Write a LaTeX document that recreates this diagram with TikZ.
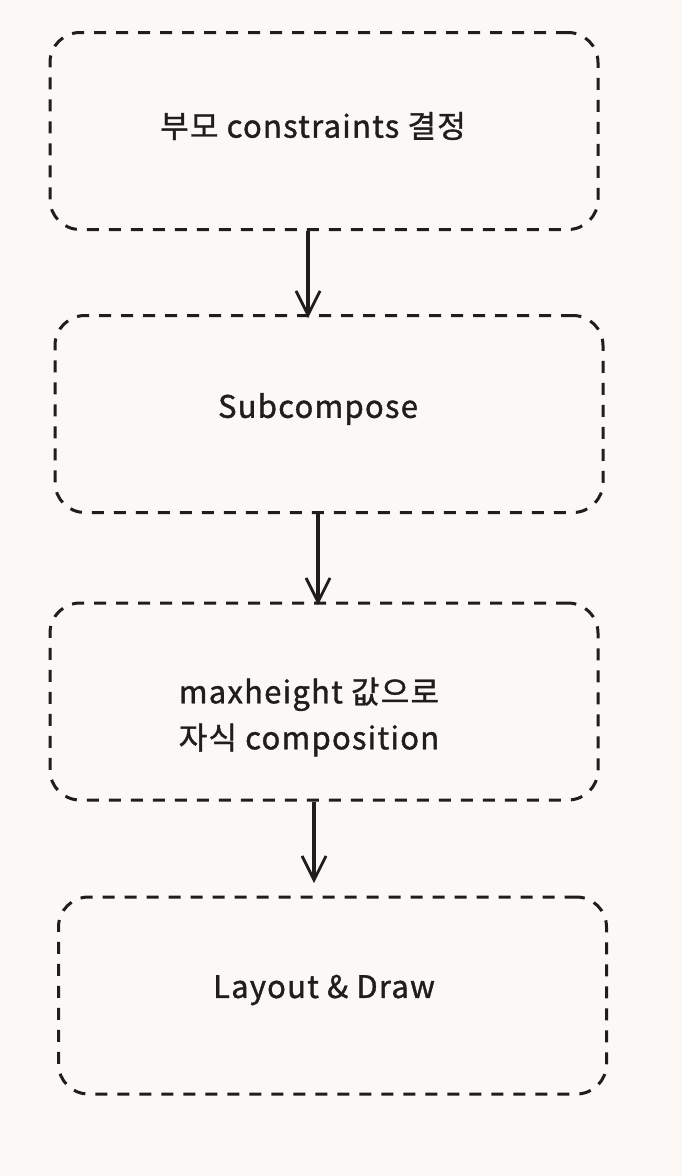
\documentclass[tikz,border=0pt]{standalone}
\usepackage{fontspec}
\setmainfont[FakeBold=1.2,LetterSpace=4]{Noto Sans CJK KR}
\usetikzlibrary{arrows.meta}
\definecolor{bgc}{HTML}{FBF8F5}
\definecolor{ink}{HTML}{1E1E1E}
\tikzset{
  box/.style={draw=ink, line width=3pt, dash pattern=on 12pt off 10pt, rounded corners=30pt, minimum width=548pt, minimum height=197pt, inner sep=0pt},
  txt/.style={text=ink, font=\fontsize{31}{46}\selectfont, align=center, inner sep=0pt},
  arr/.style={draw=ink, line width=3.2pt, -{Straight Barb[length=24pt,width=24pt,line width=2.8pt]}},
}
\begin{document}
\begin{tikzpicture}[x=1pt,y=-1pt]
\path[fill=bgc] (0,0) rectangle (682,1176);
\useasboundingbox (0,0) rectangle (682,1176);
\node[box] (b1) at (324,131) {};
\node[box] (b2) at (329,414) {};
\node[box] (b3) at (324,701.5) {};
\node[box] (b4) at (332.5,995.5) {};
\node[txt] (l1) at (313,126) {부모 constraints 결정};
\node[txt] (l2) at (318,409) {Subcompose};
\node[txt] (l3) at (309,717) {maxheight 값으로\\자식 composition};
\node[txt] (l4) at (324,990) {Layout \& Draw};
\coordinate (t1) at (308,318);
\coordinate (t2) at (318,605);
\coordinate (t3) at (314,883);
\draw[arr] (b1.south -| t1) -- (t1);
\draw[arr] (b2.south -| t2) -- (t2);
\draw[arr] (b3.south -| t3) -- (t3);
\end{tikzpicture}
\end{document}
